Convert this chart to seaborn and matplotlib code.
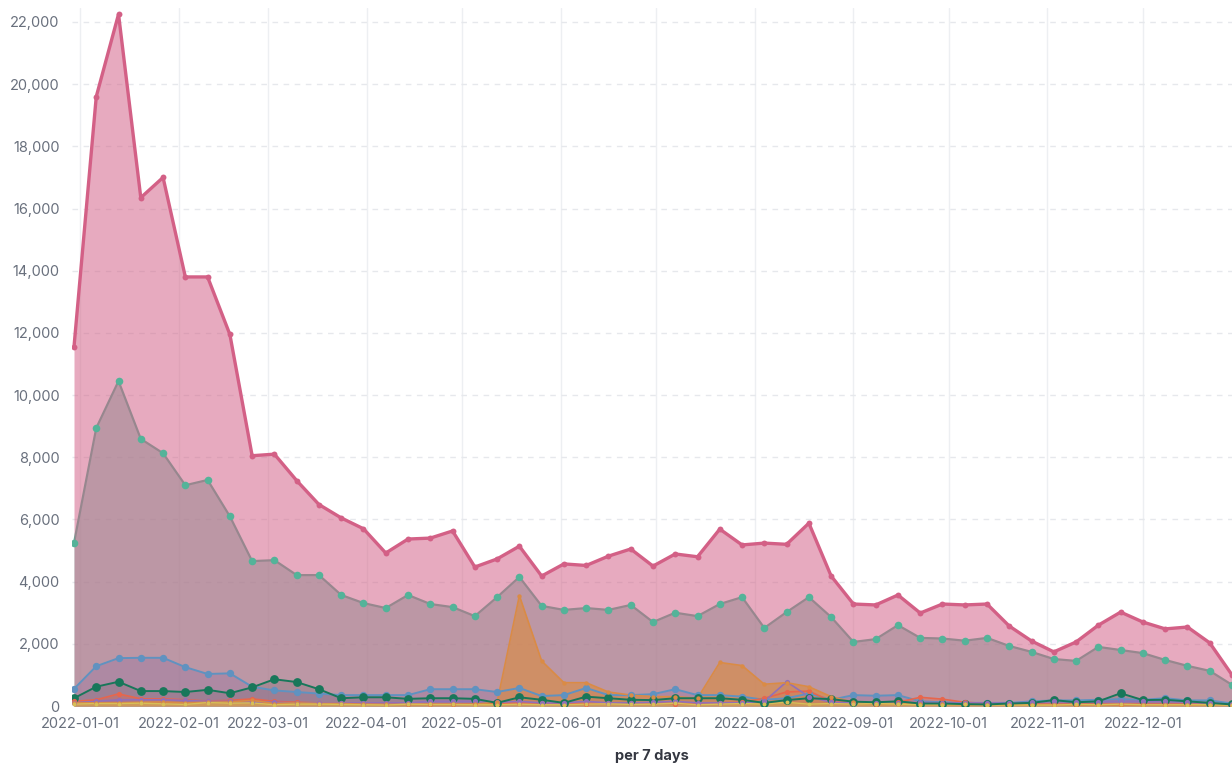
import pandas as pd
import seaborn as sns
import matplotlib.pyplot as plt
import matplotlib.dates as mdates
from matplotlib.ticker import FuncFormatter

# weekly buckets (7d, aligned on thursdays)
weeks = pd.date_range('2021-12-30', periods=53, freq='7D')

pink = [11550, 19600, 22250, 16350, 17000, 13800, 13800, 11950, 8050, 8100,
        7250, 6480, 6050, 5700, 4920, 5370, 5400, 5630, 4470, 4730,
        5140, 4180, 4570, 4520, 4820, 5050, 4500, 4890, 4800, 5690,
        5180, 5240, 5200, 5880, 4180, 3280, 3250, 3570, 2990, 3280,
        3250, 3280, 2570, 2090, 1740, 2060, 2600, 3020, 2700, 2480,
        2540, 2030, 1000]
teal = [5240, 8940, 10450, 8590, 8130, 7100, 7270, 6100, 4660, 4690,
        4210, 4210, 3570, 3310, 3150, 3570, 3280, 3180, 2890, 3500,
        4150, 3220, 3090, 3150, 3090, 3250, 2700, 3000, 2890, 3280,
        3500, 2510, 3020, 3500, 2860, 2060, 2150, 2600, 2190, 2170,
        2100, 2190, 1930, 1740, 1510, 1450, 1900, 1800, 1700, 1480,
        1290, 1130, 680]
blue = [550, 1280, 1540, 1550, 1550, 1250, 1030, 1050, 620, 500,
        450, 400, 350, 350, 350, 350, 540, 540, 540, 450,
        580, 320, 350, 580, 350, 350, 380, 540, 350, 350,
        300, 200, 250, 400, 200, 350, 330, 350, 150, 120,
        100, 100, 100, 150, 180, 180, 200, 220, 200, 250,
        180, 180, 80]
dark_green = [250, 620, 780, 480, 480, 450, 520, 410, 600, 860,
              770, 540, 250, 280, 280, 230, 250, 250, 230, 100,
              280, 200, 100, 300, 250, 200, 190, 250, 250, 250,
              200, 100, 190, 250, 220, 140, 120, 150, 80, 80,
              60, 50, 80, 100, 190, 120, 150, 410, 190, 200,
              150, 100, 50]
orange = [100, 100, 100, 120, 130, 100, 120, 130, 180, 80,
          100, 80, 80, 60, 50, 50, 50, 50, 60, 120,
          3550, 1450, 750, 750, 450, 350, 300, 300, 250, 1400,
          1300, 700, 750, 620, 300, 120, 80, 80, 60, 50,
          50, 40, 30, 30, 30, 30, 30, 30, 30, 30,
          30, 30, 20]
salmon = [150, 200, 390, 230, 230, 200, 160, 180, 230, 150,
          120, 100, 100, 80, 60, 60, 60, 60, 60, 80,
          100, 100, 80, 80, 100, 100, 100, 80, 80, 100,
          120, 250, 450, 480, 150, 100, 80, 120, 280, 220,
          120, 80, 60, 60, 60, 60, 60, 60, 60, 60,
          60, 60, 40]
purple = [100, 150, 200, 200, 200, 180, 150, 150, 130, 120,
          100, 100, 100, 100, 100, 100, 150, 150, 150, 120,
          150, 100, 100, 150, 100, 100, 120, 150, 100, 100,
          100, 150, 780, 300, 120, 100, 100, 100, 120, 100,
          100, 100, 90, 120, 150, 130, 140, 150, 150, 160,
          120, 100, 50]
yellow = [60, 80, 80, 90, 70, 50, 110, 90, 100, 40,
          60, 60, 50, 40, 30, 60, 50, 50, 40, 40,
          60, 40, 40, 60, 70, 50, 60, 90, 40, 60,
          80, 60, 120, 60, 80, 60, 80, 60, 40, 40,
          50, 30, 30, 30, 30, 50, 40, 60, 40, 40,
          40, 40, 20]

month_ticks = pd.date_range('2022-01-01', '2022-12-01', freq='MS')

sns.set_style('white')
plt.rcParams['font.family'] = ['Inter', 'DejaVu Sans']

fig = plt.figure(figsize=(12.32, 7.67), dpi=100)
ax = fig.add_axes([72 / 1232, 1 - 706 / 767, 1 - 72 / 1232, 698 / 767])

# (values, colour, fill alpha, fill z, line z, marker size, line width)
series = [
    (teal, '#54B399', 0.53, 1.0, 1.1, 30, 1.6),
    (blue, '#6092C0', 0.45, 1.5, 4.0, 28, 1.4),
    (dark_green, '#18775A', 0.30, 1.6, 4.2, 40, 1.4),
    (pink, '#D36086', 0.53, 2.0, 6.0, 18, 2.4),
    (salmon, '#E7664C', 0.35, 3.0, 4.0, 14, 1.2),
    (purple, '#9170B8', 0.30, 3.0, 4.0, 14, 1.2),
    (orange, '#DA8B45', 0.65, 3.5, 4.0, 10, 1.2),
    (yellow, '#D6BF57', 0.40, 3.6, 4.1, 8, 1.0),
]

for vals, col, alpha, zf, zl, ms, lw in series:
    ax.fill_between(weeks, 0, vals, color=col, alpha=alpha, lw=0, zorder=zf)
    sns.lineplot(x=weeks, y=vals, color=col, lw=lw, ax=ax, zorder=zl)
    sns.scatterplot(x=weeks, y=vals, color=col, s=ms, edgecolor=col,
                    linewidth=0, ax=ax, zorder=max(zl, 5))

ax.set_xlim(weeks[0] - pd.Timedelta(hours=15), weeks[-1])
ax.set_ylim(0, 22450)
ax.set_yticks(range(0, 22001, 2000))
ax.yaxis.set_major_formatter(FuncFormatter(lambda v, p: f'{int(v):,}'))
ax.set_xticks(month_ticks)
ax.xaxis.set_major_formatter(mdates.DateFormatter('%Y-%m-%d'))

ax.grid(axis='y', color='#E6E8EC', linestyle=(0, (4, 4)), lw=1, zorder=0)
ax.grid(axis='x', color='#EDEFF2', linestyle='-', lw=1, zorder=0)
ax.set_axisbelow(True)
for s in ax.spines.values():
    s.set_visible(False)

ax.tick_params(axis='both', length=0, labelsize=10.5, colors='#69707D')
ax.tick_params(axis='y', pad=9)
ax.tick_params(axis='x', pad=8)
ax.set_ylabel('')
ax.set_xlabel('per 7 days', fontsize=10.5, fontweight='bold', color='#343741', labelpad=13)

fig.savefig('out.png', dpi=100)
